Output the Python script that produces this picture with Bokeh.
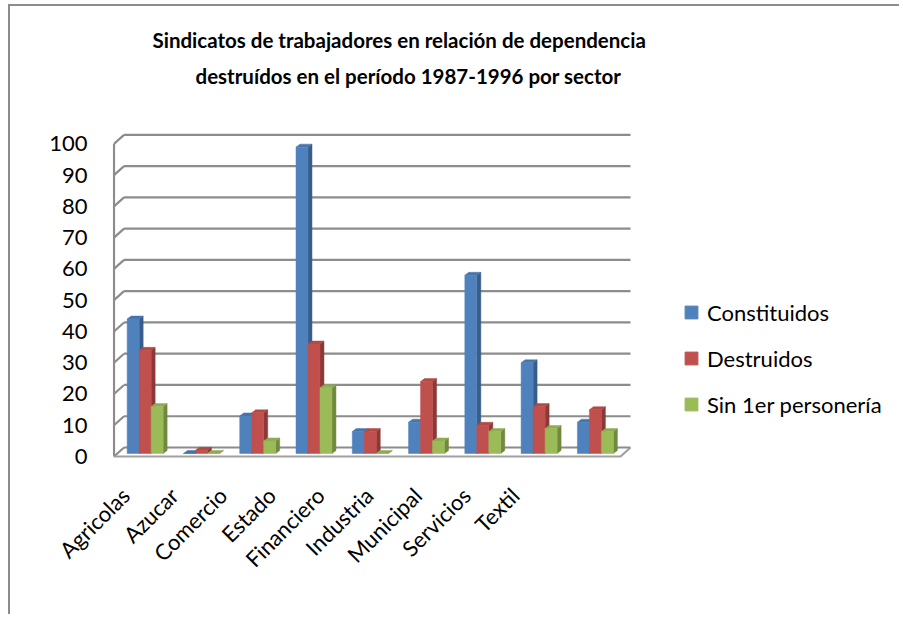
import math
from bokeh.plotting import figure
from bokeh.models import (Range1d, LinearAxis, FixedTicker, Legend, LegendItem, Title, Grid)
from bokeh.embed import file_html
from bokeh.resources import INLINE

# ---------------- data ----------------
categories = ["Agricolas", "Azucar", "Comercio", "Estado", "Financiero",
              "Industria", "Municipal", "Servicios", "Textil"]
constituidos = [43, 0, 12, 98, 7, 10, 57, 29, 10]
destruidos = [33, 1, 13, 35, 7, 23, 9, 15, 14]
sin_personeria = [15, 0, 4, 21, 0, 4, 7, 8, 7]
series_names = ["Constituidos", "Destruidos", "Sin 1er personería"]
y_ticks = [0, 10, 20, 30, 40, 50, 60, 70, 80, 90, 100]
title_line1 = "Sindicatos  de trabajadores en relación de dependencia"
title_line2 = "destruídos en el período 1987-1996 por sector"

# ---------------- styles ----------------
FONT = "Lato"
front_cols = ["#4F81BD", "#C0504D", "#9BBB59"]
side_cols = ["#385D8A", "#8C3836", "#71893F"]
top_cols = ["#4674AB", "#B04A47", "#8EAB52"]
grid_col = "#8C8C8C"

PX_X = 56.28   # pixels per category unit
PX_Y = 3.126   # pixels per value unit
FRAME_W = 778
bdx, bdy = 4 / PX_X, 3 / PX_Y          # bar depth
fx, fy = -3 / PX_X, -3 / PX_Y          # front plane of walls
kx, ky = 7 / PX_X, 6 / PX_Y            # back wall plane
bar_w = 0.213
n = len(categories)
x0 = -0.08
lab0 = 0.233

p = figure(width=891, height=610,
           x_range=Range1d(x0, x0 + FRAME_W / PX_X), y_range=Range1d(-1.6, 103),
           output_backend="svg", toolbar_location=None,
           x_axis_location=None, y_axis_location=None,
           min_border_left=102, min_border_right=11,
           min_border_top=125, min_border_bottom=158)
p.center = [r for r in p.center if not isinstance(r, Grid)]
p.outline_line_color = None
p.background_fill_color = "white"
p.border_fill_color = "white"
p.styles = {"border-top": "2px solid #8c8c8c", "border-left": "2px solid #8c8c8c",
            "margin-left": "8px", "margin-top": "4px"}

p.extra_y_ranges = {"front": Range1d(-1.6 - fy, 103 - fy)}
p.extra_x_ranges = {"labels": Range1d(lab0, lab0 + FRAME_W / 48.7)}

# ---------------- walls / gridlines ----------------
p.multi_line(xs=[[kx, n + kx] for _ in y_ticks],
             ys=[[v + ky, v + ky] for v in y_ticks],
             line_color=grid_col, line_width=2.2)
p.multi_line(xs=[[fx, kx] for _ in y_ticks],
             ys=[[v + fy, v + ky] for v in y_ticks],
             line_color=grid_col, line_width=2.2)
p.line(x=[fx, fx], y=[y_ticks[0] + fy, y_ticks[-1] + fy], line_color=grid_col, line_width=2.2)
p.line(x=[fx, n + fx, n + kx], y=[fy, fy, ky], line_color="#A0A0A0", line_width=2.2)

# ---------------- bars ----------------
all_series = [constituidos, destruidos, sin_personeria]
for j, vals in enumerate(all_series):
    xl = [i + 0.5 + (j - 1.5) * bar_w for i in range(n)]
    xr = [x + bar_w for x in xl]
    p.patches(xs=[[r, r + bdx, r + bdx, r] for r in xr],
              ys=[[0, bdy, v + bdy, v] for v in vals],
              fill_color=side_cols[j], line_color=side_cols[j], line_width=0.5)
    p.patches(xs=[[l, l + bdx, r + bdx, r] for l, r in zip(xl, xr)],
              ys=[[v, v + bdy, v + bdy, v] for v in vals],
              fill_color=top_cols[j], line_color=top_cols[j], line_width=0.5)
    p.quad(left=xl, right=xr, bottom=0, top=vals,
           fill_color=front_cols[j], line_color=front_cols[j], line_width=0.5)

# ---------------- axes ----------------
yax = LinearAxis(y_range_name="front", ticker=FixedTicker(ticks=y_ticks))
yax.axis_line_color = None
yax.major_tick_line_color = None
yax.minor_tick_line_color = None
yax.major_label_standoff = 19
yax.major_label_text_font = FONT
yax.major_label_text_font_size = "22px"
yax.major_label_text_color = "black"
p.add_layout(yax, "left")

label_ticks = [i + 0.5 for i in range(n)]
xax = LinearAxis(x_range_name="labels", ticker=FixedTicker(ticks=label_ticks))
xax.major_label_overrides = {t: c for t, c in zip(label_ticks, categories)}
xax.major_label_orientation = math.pi / 4
xax.axis_line_color = None
xax.major_tick_line_color = None
xax.minor_tick_line_color = None
xax.major_label_standoff = 27
xax.major_label_text_font = FONT
xax.major_label_text_font_size = "22px"
xax.major_label_text_color = "black"
p.add_layout(xax, "below")

# ---------------- title ----------------
spacer = Title(text=" ", text_font_size="10px", standoff=26)
p.add_layout(spacer, "above")
for txt, off in [(title_line2, 83), (title_line1, 40)]:
    t = Title(text=txt, align="left", offset=off, standoff=10,
              text_font=FONT, text_font_style="bold", text_font_size="20.5px",
              text_color="black")
    p.add_layout(t, "above")

# ---------------- legend ----------------
nan = float("nan")
items = []
for j, name in enumerate(series_names):
    r = p.scatter(x=[nan], y=[nan], marker="square", size=13,
                  fill_color=front_cols[j], line_color=front_cols[j])
    items.append(LegendItem(label=name, renderers=[r]))
legend = Legend(items=items, location=(563, 38), orientation="vertical",
                glyph_width=32, glyph_height=32, label_height=32, spacing=14,
                label_standoff=0, padding=0, margin=0,
                border_line_color=None, background_fill_alpha=0,
                label_text_font=FONT, label_text_font_size="22px",
                label_text_color="black")
p.add_layout(legend, "center")

open("out.html", "w").write(file_html(p, INLINE))
